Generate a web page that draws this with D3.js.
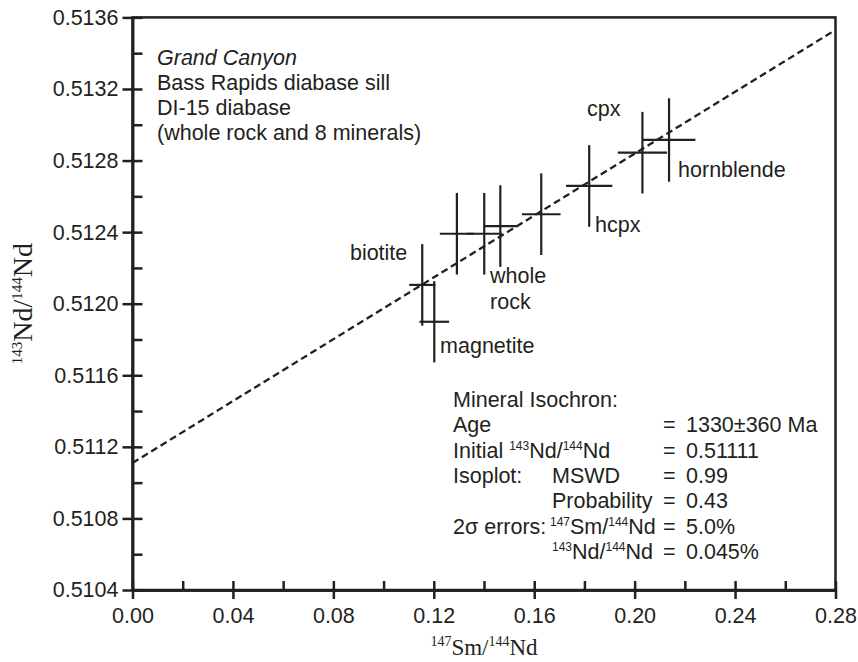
<!DOCTYPE html>
<html>
<head>
<meta charset="utf-8">
<script src="https://cdn.jsdelivr.net/npm/d3@7"></script>
<style>
  body { margin: 0; background: #fff; }
  svg text { font-family: "Liberation Sans", Arial, Helvetica, sans-serif; fill: #231f20; }
  .axis .domain, .axis line { stroke: #231f20; stroke-width: 2.5; }
  .axis text { font-size: 21.5px; }
</style>
</head>
<body>
<div id="chart"></div>
<script>
"use strict";

// Sm-Nd analyses, DI-15 diabase (whole rock + 8 minerals)
const smNd   = [0.1154, 0.1202, 0.1292, 0.1401, 0.1465, 0.1628, 0.1819, 0.2031, 0.2137];
const ndNd   = [0.512105, 0.511899, 0.512391, 0.512391, 0.512434, 0.512500, 0.512658, 0.512844, 0.512915];
const smErr  = [0.0052, 0.0059, 0.0068, 0.0070, 0.0066, 0.0077, 0.0092, 0.0098, 0.0105];
const ndErr  = [0.000228, 0.000227, 0.000228, 0.000228, 0.000228, 0.000228, 0.000228, 0.000228, 0.000233];

// isochron end points
const isoX = [0, 0.28];
const isoY = [0.51111, 0.51353];

// point labels and where they sit (data coords)
const labelText = ["biotite", "magnetite", "whole|rock", "hcpx", "cpx", "hornblende"];
const labelX    = [0.0866, 0.1225, 0.1424, 0.1842, 0.1810, 0.2173];
const labelY    = [0.512244, 0.511725, 0.512116, 0.512401, 0.513049, 0.512708];

// axes
const xTicks = [0, 0.04, 0.08, 0.12, 0.16, 0.20, 0.24, 0.28];
const xMinor = [0.02, 0.06, 0.10, 0.14, 0.18, 0.22, 0.26];
const yTicks = [0.5104, 0.5108, 0.5112, 0.5116, 0.5120, 0.5124, 0.5128, 0.5132, 0.5136];
const yMinor = [0.5106, 0.5110, 0.5114, 0.5118, 0.5122, 0.5126, 0.5130, 0.5134];

// text blocks
const titleLines = ["Grand Canyon", "Bass Rapids diabase sill", "DI-15 diabase", "(whole rock and 8 minerals)"];
const noteCol1   = ["Mineral Isochron:", "Age", "Initial ^{143}Nd/^{144}Nd", "Isoplot:", "", "2\u03c3 errors:", ""];
const noteCol2   = ["", "", "", "MSWD", "Probability", "^{147}Sm/^{144}Nd", "^{143}Nd/^{144}Nd"];
const noteValue  = ["", "1330\u00b1360 Ma", "0.51111", "0.99", "0.43", "5.0%", "0.045%"];


/*
 * helpers
 */

// write "^{143}Nd" style strings as tspans with raised small digits
function richText(sel, str, big, small, rise) {
    const parts = str.split(/(\^\{\d+\})/).filter(s => s.length);
    let raised = false;
    parts.forEach(p => {
        const m = p.match(/^\^\{(\d+)\}$/);
        if (m) {
            sel.append("tspan")
                .attr("font-size", small)
                .attr("dy", raised ? 0 : -rise)
                .text(m[1]);
            raised = true;
        } else {
            sel.append("tspan")
                .attr("font-size", big)
                .attr("dy", raised ? rise : 0)
                .text(p);
            raised = false;
        }
    });
}


/*
 * chart
 */

const WIDTH = 858, HEIGHT = 662;
const FS = 21.5;
const SUP = 12;

const svg = d3.select("#chart")
  .append("svg")
    .attr("width", WIDTH)
    .attr("height", HEIGHT);

const x = d3.scaleLinear().domain([0, 0.28]).range([132.5, 835.5]);
const y = d3.scaleLinear().domain([0.5104, 0.5136]).range([590, 17.4]);

// frame
svg.append("rect")
    .attr("x", x(0))
    .attr("y", y(0.5136))
    .attr("width", x(0.28) - x(0))
    .attr("height", y(0.5104) - y(0.5136))
    .attr("fill", "none")
    .attr("stroke", "#231f20")
    .attr("stroke-width", 2.5);

// left axis: majors cross the line, minors inside only
svg.append("g")
    .attr("class", "axis")
    .attr("transform", `translate(${x(0)},0)`)
    .call(d3.axisLeft(y).tickValues(yTicks).tickSize(10).tickSizeOuter(0)
        .tickPadding(4).tickFormat(d3.format(".4f")));

svg.append("g")
    .attr("class", "axis")
    .attr("transform", `translate(${x(0)},0)`)
    .call(d3.axisRight(y).tickValues(yTicks.concat(yMinor)).tickSize(10)
        .tickSizeOuter(0).tickFormat(""));

// bottom axis
svg.append("g")
    .attr("class", "axis")
    .attr("transform", `translate(0,${y(0.5104)})`)
    .call(d3.axisBottom(x).tickValues(xTicks).tickSize(9).tickSizeOuter(0)
        .tickPadding(9).tickFormat(d3.format(".2f")));

svg.append("g")
    .attr("class", "axis")
    .attr("transform", `translate(0,${y(0.5104)})`)
    .call(d3.axisTop(x).tickValues(xTicks.concat(xMinor)).tickSize(9)
        .tickSizeOuter(0).tickFormat(""));

// isochron
svg.append("line")
    .attr("x1", x(isoX[0])).attr("y1", y(isoY[0]))
    .attr("x2", x(isoX[1])).attr("y2", y(isoY[1]))
    .attr("stroke", "#231f20")
    .attr("stroke-width", 2.3)
    .attr("stroke-dasharray", "7,4");

// error crosses
const pts = d3.range(smNd.length);
const crosses = svg.append("g")
    .attr("stroke", "#231f20")
    .attr("stroke-width", 2.2);

crosses.selectAll(".h").data(pts).join("line")
    .attr("class", "h")
    .attr("x1", i => x(smNd[i] - smErr[i]))
    .attr("x2", i => x(smNd[i] + smErr[i]))
    .attr("y1", i => y(ndNd[i]))
    .attr("y2", i => y(ndNd[i]));

crosses.selectAll(".v").data(pts).join("line")
    .attr("class", "v")
    .attr("x1", i => x(smNd[i]))
    .attr("x2", i => x(smNd[i]))
    .attr("y1", i => y(ndNd[i] - ndErr[i]))
    .attr("y2", i => y(ndNd[i] + ndErr[i]));

// point labels
labelText.forEach((t, i) => {
    const txt = svg.append("text")
        .attr("x", x(labelX[i]))
        .attr("y", y(labelY[i]))
        .attr("font-size", FS);
    t.split("|").forEach((line, k) => {
        txt.append("tspan")
            .attr("x", x(labelX[i]))
            .attr("dy", k ? 26.5 : 0)
            .text(line);
    });
});

// sample description, top left
titleLines.forEach((t, i) => {
    svg.append("text")
        .attr("x", 157)
        .attr("y", 65 + i * 25)
        .attr("font-size", FS)
        .attr("font-style", i === 0 ? "italic" : "normal")
        .text(t);
});

// isochron results
const eqX = [663, 663, 663, 663, 663, 663, 663];
noteCol1.forEach((t, i) => {
    const base = 406.7 + i * 25.4;
    if (t) {
        richText(svg.append("text").attr("x", 453).attr("y", base), t, FS, SUP, 8);
    }
    if (noteCol2[i]) {
        const cx = noteCol2[i].startsWith("^") ? (i === 5 ? 550 : 552) : 552;
        richText(svg.append("text").attr("x", cx).attr("y", base), noteCol2[i], FS, SUP, 8);
    }
    if (noteValue[i]) {
        svg.append("text").attr("x", eqX[i]).attr("y", base).attr("font-size", FS).text("=");
        svg.append("text").attr("x", 686).attr("y", base).attr("font-size", FS).text(noteValue[i]);
    }
});

// axis titles
const xTitle = svg.append("text")
    .attr("x", (x(0) + x(0.28)) / 2)
    .attr("y", 655)
    .attr("text-anchor", "middle")
    .style("font-family", "'Liberation Serif', 'Times New Roman', serif");
richText(xTitle, "^{147}Sm/^{144}Nd", 23, 14, 9);

const yTitle = svg.append("text")
    .attr("transform", `translate(32,${(y(0.5104) + y(0.5136)) / 2}) rotate(-90)`)
    .attr("text-anchor", "middle")
    .style("font-family", "'Liberation Serif', 'Times New Roman', serif");
richText(yTitle, "^{143}Nd/^{144}Nd", 28, 15, 10);
</script>
</body>
</html>
